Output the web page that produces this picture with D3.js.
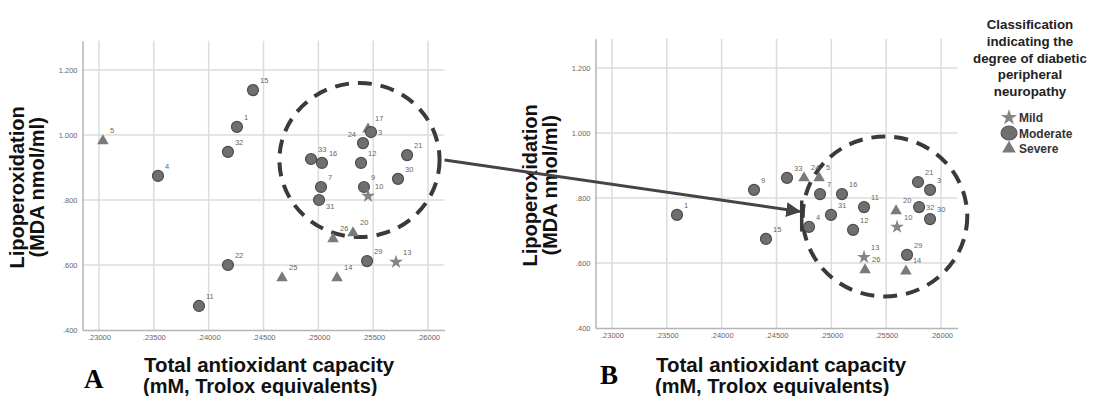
<!DOCTYPE html>
<html><head><meta charset="utf-8">
<script src="https://cdn.jsdelivr.net/npm/d3@7"></script>
<style>
html,body{margin:0;padding:0;background:#fff;}
svg{display:block;}
</style></head>
<body>
<svg id="chart" width="1106" height="396"></svg>
<script>
// ---- Data ----
const xTicks = [0.23, 0.235, 0.24, 0.245, 0.25, 0.255, 0.26];
const xTickLabels = [".23000", ".23500", ".24000", ".24500", ".25000", ".25500", ".26000"];
const yTicks = [0.4, 0.6, 0.8, 1.0, 1.2];
const yTickLabels = [".400", ".600", ".800", "1.000", "1.200"];
const groups = ["Mild", "Moderate", "Severe"];

// Panel A
const aIds   = ["5","4","32","1","15","22","11","33","16","7","31","17","3","24","12","9","10","21","30","26","20","29","13","25","14"];
const aTac   = [0.23036,0.23538,0.24176,0.24258,0.24404,0.24176,0.23912,0.24933,0.25033,0.25024,0.25006,0.25453,0.2548,0.25407,0.25389,0.25416,0.25453,0.25809,0.25726,0.25134,0.25316,0.25444,0.25708,0.24669,0.2517];
const aMda   = [0.985,0.874,0.948,1.025,1.138,0.600,0.474,0.926,0.914,0.840,0.800,1.021,1.009,0.975,0.914,0.840,0.812,0.938,0.865,0.683,0.702,0.612,0.609,0.563,0.563];
const aGroup = ["Severe","Moderate","Moderate","Moderate","Moderate","Moderate","Moderate","Moderate","Moderate","Moderate","Moderate","Severe","Moderate","Moderate","Moderate","Moderate","Mild","Moderate","Moderate","Severe","Severe","Moderate","Mild","Severe","Severe"];

// Panel B
const bIds   = ["1","9","15","33","24","5","7","16","31","11","4","12","21","3","32","30","20","10","13","26","29","14"];
const bTac   = [0.23593,0.24295,0.24404,0.24596,0.24751,0.24888,0.24897,0.25097,0.24997,0.25298,0.24796,0.25198,0.2579,0.259,0.2580,0.259,0.2559,0.25599,0.25298,0.25307,0.2569,0.2568];
const bMda   = [0.748,0.825,0.674,0.862,0.865,0.865,0.812,0.812,0.748,0.772,0.711,0.702,0.849,0.825,0.772,0.735,0.763,0.711,0.618,0.582,0.625,0.578];
const bGroup = ["Moderate","Moderate","Moderate","Moderate","Severe","Severe","Moderate","Moderate","Moderate","Moderate","Moderate","Moderate","Moderate","Moderate","Moderate","Moderate","Severe","Mild","Mild","Severe","Moderate","Severe"];

// Dashed highlight ellipses (data units: centre x, centre y, half-width x, half-height y)
const aHighlight = [0.25375, 0.923, 0.0073, 0.237];
const bHighlight = [0.25489, 0.743, 0.0075, 0.246];

// Label placements that differ from the default (upper right)
const aLabelDir = {"31":"se","3":"e","24":"nw"};
const bLabelDir = {"32":"e"};

// ---- Layout ----
const svg = d3.select("#chart");
const FONT = "'Liberation Sans', Arial, sans-serif";
const xDomain = [0.2285, 0.2615];
const yDomain = [0.4, 1.29];

const panels = [
  {ids:aIds, tac:aTac, mda:aMda, grp:aGroup, hl:aHighlight, dir:aLabelDir, left:82.5, right:444.5, top:40.7, bottom:330, letter:"A", letterX:84, letterY:388, titleX:144, yTitleX:24},
  {ids:bIds, tac:bTac, mda:bMda, grp:bGroup, hl:bHighlight, dir:bLabelDir, left:595.5, right:957.5, top:38.7, bottom:328, letter:"B", letterX:600, letterY:384, titleX:656, yTitleX:537}
];

const shape = d3.scaleOrdinal().domain(groups).range([d3.symbolStar, d3.symbolCircle, d3.symbolTriangle]);
const size = d3.scaleOrdinal().domain(groups).range([60, 95, 58]);
const fill = d3.scaleOrdinal().domain(groups).range(["#858585", "#6f6f6f", "#7a7a7a"]);

panels.forEach(p => {
  const x = d3.scaleLinear().domain(xDomain).range([p.left, p.right]);
  const y = d3.scaleLinear().domain(yDomain).range([p.bottom, p.top]);
  p.x = x; p.y = y;
  const g = svg.append("g");

  // gridlines
  g.selectAll(".vg").data(xTicks).join("line")
    .attr("x1", d => x(d)).attr("x2", d => x(d))
    .attr("y1", y(yDomain[0])).attr("y2", y(yDomain[1]))
    .attr("stroke", "#dcdcdc").attr("stroke-width", 1.5);
  g.selectAll(".hg").data(yTicks.slice(1)).join("line")
    .attr("x1", x(xDomain[0])).attr("x2", x(xDomain[1]))
    .attr("y1", d => y(d)).attr("y2", d => y(d))
    .attr("stroke", "#dcdcdc").attr("stroke-width", 1.5);

  // axes
  const xAxis = d3.axisBottom(x).tickValues(xTicks).tickFormat((d,i) => xTickLabels[i]).tickSize(0).tickPadding(5);
  const yAxis = d3.axisLeft(y).tickValues(yTicks).tickFormat((d,i) => yTickLabels[i]).tickSize(0).tickPadding(5);
  const gx = g.append("g").attr("transform", `translate(0,${p.bottom})`).call(xAxis);
  const gy = g.append("g").attr("transform", `translate(${p.left},0)`).call(yAxis);
  [gx, gy].forEach(ax => {
    ax.select(".domain").attr("stroke", "#b5b5b5").attr("stroke-width", 1.5);
    ax.selectAll("text").attr("fill", "#666").style("font-family", FONT).style("font-size", "7.5px");
  });

  // highlight ellipse
  g.append("ellipse")
    .attr("cx", x(p.hl[0])).attr("cy", y(p.hl[1]))
    .attr("rx", x(p.hl[0] + p.hl[2]) - x(p.hl[0]))
    .attr("ry", y(p.hl[1]) - y(p.hl[1] + p.hl[3]))
    .attr("fill", "none").attr("stroke", "#3a3a3a").attr("stroke-width", 4)
    .attr("stroke-dasharray", "14 9");

  // points
  const pts = p.ids.map((id, i) => ({id, tac:p.tac[i], mda:p.mda[i], grp:p.grp[i]}));
  g.selectAll(".pt").data(pts).join("path")
    .attr("transform", d => `translate(${x(d.tac)},${y(d.mda)})` + (d.grp === "Severe" ? " translate(0,1)" : ""))
    .attr("d", d => d3.symbol(shape(d.grp), size(d.grp))())
    .attr("fill", d => fill(d.grp))
    .attr("stroke", d => d.grp === "Moderate" ? "#4d4d4d" : "none")
    .attr("stroke-width", 1.2);

  // point labels
  const off = {ne:[7,-7,"start"], se:[7,9,"start"], e:[7,3,"start"], nw:[-7,-6,"end"]};
  g.selectAll(".lbl").data(pts).join("text")
    .attr("x", d => x(d.tac) + off[p.dir[d.id] || "ne"][0])
    .attr("y", d => y(d.mda) + off[p.dir[d.id] || "ne"][1])
    .attr("text-anchor", d => off[p.dir[d.id] || "ne"][2])
    .attr("fill", "#666").style("font-family", FONT).style("font-size", "7.5px")
    .text(d => d.id);

  // axis titles
  const yt = g.append("text").attr("transform", `translate(${p.yTitleX},${(p.top + p.bottom)/2 + 2}) rotate(-90)`)
    .attr("text-anchor", "middle").attr("fill", "#111")
    .style("font-family", FONT).style("font-weight", "bold").style("font-size", "20px");
  yt.append("tspan").attr("x", 0).attr("dy", 0).text("Lipoperoxidation");
  yt.append("tspan").attr("x", 0).attr("dy", 20).text("(MDA nmol/ml)");

  g.append("text").attr("x", p.titleX).attr("y", 372)
    .attr("fill", "#111").style("font-family", FONT).style("font-weight", "bold").style("font-size", "20.5px")
    .text("Total antioxidant capacity");
  g.append("text").attr("x", p.titleX - 1).attr("y", 393)
    .attr("fill", "#111").style("font-family", FONT).style("font-weight", "bold").style("font-size", "20px")
    .text("(mM, Trolox equivalents)");

  g.append("text").attr("x", p.letterX).attr("y", p.letterY)
    .attr("fill", "#000").style("font-family", "'Liberation Serif', 'Times New Roman', serif")
    .style("font-weight", "bold").style("font-size", "27px").text(p.letter);
});

// arrow between the highlighted clusters
const pa = panels[0], pb = panels[1];
const ax1 = pa.x(pa.hl[0] + pa.hl[2]) + 5, ay1 = pa.y(pa.hl[1]);
const ax2 = pb.x(pb.hl[0] - pb.hl[2]) - 3, ay2 = pb.y(pb.hl[1]) - 5;
svg.append("defs").append("marker").attr("id", "ah")
  .attr("viewBox", "0 0 10 10").attr("refX", 9).attr("refY", 5)
  .attr("markerWidth", 5).attr("markerHeight", 5).attr("orient", "auto")
  .append("path").attr("d", "M0,0 L10,5 L0,10 z").attr("fill", "#444");
svg.append("line").attr("x1", ax1).attr("y1", ay1).attr("x2", ax2).attr("y2", ay2)
  .attr("stroke", "#444").attr("stroke-width", 3).attr("marker-end", "url(#ah)");
svg.append("line").attr("x1", ax2 + 2).attr("x2", ax2 + 2).attr("y1", ay2 - 11).attr("y2", ay2 + 20)
  .attr("stroke", "#3a3a3a").attr("stroke-width", 3.5);

// legend
const lg = svg.append("g");
const titleLines = ["Classification", "indicating the", "degree of diabetic", "peripheral", "neuropathy"];
lg.selectAll(".lt").data(titleLines).join("text")
  .attr("x", 1030).attr("y", (d,i) => 29 + i*16.8)
  .attr("text-anchor", "middle").attr("fill", "#222")
  .style("font-family", FONT).style("font-weight", "bold").style("font-size", "13.3px")
  .text(d => d);
const li = lg.selectAll(".li").data(groups).join("g")
  .attr("transform", (d,i) => `translate(1009,${117.5 + i*15.5})`);
li.append("path")
  .attr("d", d => d3.symbol(shape(d), d === "Moderate" ? 150 : 80)())
  .attr("transform", d => d === "Moderate" ? "scale(1.15,1)" : "")
  .attr("fill", d => fill(d)).attr("stroke", d => d === "Moderate" ? "#555" : "none");
li.append("text").attr("x", 10).attr("y", 4.5)
  .attr("fill", "#333").style("font-family", FONT).style("font-weight", "bold").style("font-size", "12px")
  .text(d => d);
</script>
</body></html>
